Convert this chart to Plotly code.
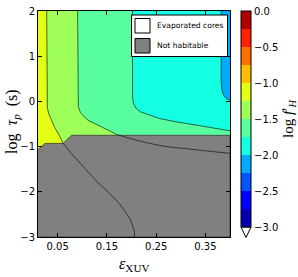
import plotly.graph_objects as go

# ---------------- data ----------------
x_range = [0.01, 0.40]
y_range = [-3.0, 2.0]
x_ticks = [0.05, 0.15, 0.25, 0.35]
x_ticklabels = ["0.05", "0.15", "0.25", "0.35"]
y_ticks = [-3, -2, -1, 0, 1, 2]
y_ticklabels = ["\u22123", "\u22122", "\u22121", "0", "1", "2"]

cbar_min, cbar_max, cbar_step = -3.0, 0.0, 0.25
cbar_ticks = [0.0, -0.5, -1.0, -1.5, -2.0, -2.5, -3.0]
cbar_ticklabels = ["0.0", "\u22120.5", "\u22121.0", "\u22121.5", "\u22122.0", "\u22122.5", "\u22123.0"]

# contour level -1.25
c125_x = [0.0277, 0.0277, 0.029, 0.032, 0.037, 0.044, 0.054, 0.061, 0.075, 0.092, 0.108, 0.130, 0.155, 0.172, 0.186, 0.197, 0.203, 0.206, 0.206]
c125_y = [2.0, 0.0, -0.15, -0.28, -0.41, -0.58, -0.77, -0.93, -1.12, -1.32, -1.52, -1.78, -2.03, -2.22, -2.42, -2.60, -2.78, -2.90, -3.0]
# contour level -1.5
c150_x = [0.0905, 0.0905, 0.092, 0.096, 0.101, 0.112, 0.135, 0.155, 0.172, 0.200, 0.237, 0.270, 0.320, 0.360, 0.400]
c150_y = [2.0, 0.05, -0.12, -0.24, -0.31, -0.42, -0.54, -0.65, -0.74, -0.83, -0.93, -1.00, -1.06, -1.10, -1.15]
# contour level -1.75
c175_x = [0.202, 0.202, 0.204, 0.209, 0.218, 0.237, 0.257, 0.290, 0.330, 0.370, 0.400]
c175_y = [2.0, 0.10, -0.05, -0.15, -0.23, -0.30, -0.38, -0.45, -0.52, -0.59, -0.65]
# contour level -2.0
c200_x = [0.382, 0.382, 0.384, 0.389, 0.395, 0.400]
c200_y = [2.0, 0.40, 0.22, 0.10, 0.05, 0.03]

contour_levels = [-1.25, -1.5, -1.75, -2.0]
contour_x = [c125_x, c150_x, c175_x, c200_x]
contour_y = [c125_y, c150_y, c175_y, c200_y]

# "Not habitable" region
nothab_x = [0.01, 0.024, 0.061, 0.078, 0.40, 0.40, 0.01]
nothab_y = [-1.07, -0.93, -0.93, -0.75, -0.75, -3.0, -3.0]

legend_labels = ["Evaporated cores", "Not habitable"]

# ---------------- styles ----------------
def jet(v):
    def interp(pts, t):
        for (a, va), (b, vb) in zip(pts[:-1], pts[1:]):
            if a <= t <= b:
                return va + (vb - va) * (t - a) / (b - a) if b > a else vb
        return pts[-1][1]
    r = interp([(0, 0), (0.35, 0), (0.66, 1), (0.89, 1), (1, 0.5)], v)
    g = interp([(0, 0), (0.125, 0), (0.375, 1), (0.64, 1), (0.91, 0), (1, 0)], v)
    b = interp([(0, 0.5), (0.11, 1), (0.34, 1), (0.65, 0), (1, 0)], v)
    return "rgb(%d,%d,%d)" % (round(r * 255), round(g * 255), round(b * 255))

nbands = int(round((cbar_max - cbar_min) / cbar_step))
band_colors = [jet((k + 0.5) / nbands) for k in range(nbands)]

def band_color(lo):
    k = int(round((lo - cbar_min) / cbar_step))
    return band_colors[k]

GRAY = "#808080"
SERIF = "Liberation Serif"
SANS = "DejaVu Sans"

fig = go.Figure()

# background: region right of the -2.0 contour (band -2.25..-2.0)
fig.add_trace(go.Scatter(
    x=[x_range[0], x_range[1], x_range[1], x_range[0]],
    y=[y_range[1], y_range[1], y_range[0], y_range[0]],
    fill="toself", fillcolor=band_color(-2.25), line=dict(width=0),
    mode="lines", hoverinfo="skip", showlegend=False))

# fill left/below each contour, from rightmost to leftmost
for lev, cx, cy in reversed(list(zip(contour_levels, contour_x, contour_y))):
    px = [x_range[0]] + cx + ([x_range[1]] if cx[-1] >= x_range[1] else []) + [x_range[0]]
    py = [y_range[1]] + cy + ([y_range[0]] if cx[-1] >= x_range[1] else []) + [y_range[0]]
    fig.add_trace(go.Scatter(
        x=px, y=py, fill="toself", fillcolor=band_color(lev), line=dict(width=0),
        mode="lines", hoverinfo="skip", showlegend=False))

# not habitable
fig.add_trace(go.Scatter(
    x=nothab_x, y=nothab_y, fill="toself", fillcolor=GRAY,
    line=dict(width=0.8, color="#3a3a3a"), mode="lines",
    hoverinfo="skip", showlegend=False))

# contour lines
for cx, cy in zip(contour_x, contour_y):
    fig.add_trace(go.Scatter(
        x=cx, y=cy, mode="lines", line=dict(color="rgba(0,0,0,0.85)", width=0.7),
        hoverinfo="skip", showlegend=False))

# colorbar carrier
cscale = []
for k, c in enumerate(band_colors):
    cscale.append([k / nbands, c])
    cscale.append([(k + 1) / nbands, c])
fig.add_trace(go.Scatter(
    x=[0.2], y=[10], mode="markers",
    marker=dict(color=[cbar_min], cmin=cbar_min, cmax=cbar_max, colorscale=cscale,
                size=1, showscale=True,
                colorbar=dict(
                    x=1.057, xanchor="left", xref="paper",
                    y=1.0, yanchor="top", yref="paper",
                    thickness=10, thicknessmode="pixels",
                    len=216, lenmode="pixels",
                    outlinewidth=1, outlinecolor="black",
                    tickvals=cbar_ticks, ticktext=cbar_ticklabels,
                    ticks="", xpad=0, ypad=0,
                    tickfont=dict(family=SANS, size=10, color="black"),
                    title=dict(text="log <i>f</i>\u2032<sub><i>H</i></sub>", side="right",
                               font=dict(family=SERIF, size=15, color="black")))),
    hoverinfo="skip", showlegend=False))

# ---------------- layout ----------------
W, H = 298, 277
L, R, T, B = 38, 68, 11, 40
pw, ph = W - L - R, H - T - B

def px2x(p):
    return (p - L) / pw

def px2y(p):
    return (H - B - p) / ph

shapes = []
# extend-min triangle of colorbar
tx0, tx1, ty0, ty1 = px2x(241), px2x(251), px2y(227), px2y(237.5)
shapes.append(dict(type="path", xref="paper", yref="paper",
                   path="M %f %f L %f %f L %f %f Z" % (tx0, ty0, tx1, ty0, (tx0 + tx1) / 2, ty1),
                   fillcolor="white", line=dict(color="black", width=1)))
# legend box
shapes.append(dict(type="rect", xref="paper", yref="paper",
                   x0=px2x(131.5), x1=px2x(227.5), y0=px2y(56.5), y1=px2y(15),
                   fillcolor="white", line=dict(color="black", width=1)))
legend_patch_colors = ["white", GRAY]
legend_rows = [(18.5, 33), (38.5, 53)]
annotations = []
for lab, col, (ya, yb) in zip(legend_labels, legend_patch_colors, legend_rows):
    shapes.append(dict(type="rect", xref="paper", yref="paper",
                       x0=px2x(135), x1=px2x(150), y0=px2y(yb), y1=px2y(ya),
                       fillcolor=col, line=dict(color="black", width=1)))
    annotations.append(dict(xref="paper", yref="paper", x=px2x(155), y=px2y((ya + yb) / 2),
                            text=lab, showarrow=False, xanchor="left", yanchor="middle",
                            font=dict(family=SANS, size=7.6, color="black")))

annotations.append(dict(xref="paper", yref="paper", x=px2x(134), y=px2y(264),
                        text="<i>\u03b5</i><sub>XUV</sub>", showarrow=False,
                        xanchor="center", yanchor="middle",
                        font=dict(family=SERIF, size=16, color="black")))
annotations.append(dict(xref="paper", yref="paper", x=px2x(12), y=px2y(122),
                        text="log  <i>\u03c4</i><sub><i>p</i></sub>  (s)", showarrow=False,
                        textangle=-90, xanchor="center", yanchor="middle",
                        font=dict(family=SERIF, size=16, color="black")))

axis_common = dict(showgrid=False, zeroline=False, showline=True, linecolor="black",
                   linewidth=1, mirror="ticks", ticks="inside", ticklen=4, tickwidth=1,
                   tickcolor="black", tickfont=dict(family=SANS, size=10, color="black"))

fig.update_layout(
    width=W, height=H, margin=dict(l=L, r=R, t=T, b=B, autoexpand=False),
    paper_bgcolor="white", plot_bgcolor="white",
    xaxis=dict(range=x_range, tickvals=x_ticks, ticktext=x_ticklabels, **axis_common),
    yaxis=dict(range=y_range, tickvals=y_ticks, ticktext=y_ticklabels, **axis_common),
    shapes=shapes, annotations=annotations, showlegend=False,
)

fig.write_html("out.html", config={"displayModeBar": False})

# remove the browser's default page margin so the figure sits at the window origin
with open("out.html", "r", encoding="utf-8") as f:
    html = f.read()
html = html.replace("<body>", '<body style="margin:0;padding:0;overflow:hidden">', 1)
with open("out.html", "w", encoding="utf-8") as f:
    f.write(html)
